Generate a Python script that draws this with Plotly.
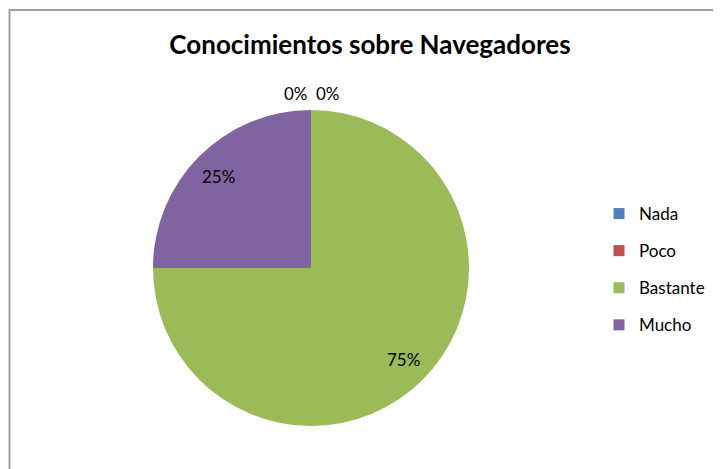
import math
import plotly.graph_objects as go

labels = ["Nada", "Poco", "Bastante", "Mucho"]
values = [0, 0, 75, 25]
colors = ["#4F81BD", "#C0504D", "#9BBB59", "#8064A2"]

W, H = 721, 469
OFF = 8  # the page body margin shifts the figure by 8px
CX, CY, R = 311, 268, 158  # pie centre and radius, screen pixels


def px_x(x):
    return (x - OFF) / W


def px_y(y):
    return 1 - (y - OFF) / H


fig = go.Figure()

fig.add_trace(go.Pie(
    labels=labels, values=values, sort=False, direction="clockwise", rotation=0,
    marker=dict(colors=colors, line=dict(width=0)),
    textinfo="none",
    showlegend=False,
    domain=dict(x=[px_x(CX - R), px_x(CX + R)], y=[px_y(CY + R), px_y(CY - R)]),
))

# data labels, placed like Excel does (inside at ~0.82r, zero slices above the top)
total = sum(values)
annotations = []
start = 0.0
zero_i = 0
for v in values:
    pct = v / total
    if v == 0:
        x = CX + (-15 if zero_i == 0 else 17)
        y = CY - R - 16
        zero_i += 1
    else:
        mid = (start + pct / 2) * 2 * math.pi
        x = CX + 0.83 * R * math.sin(mid)
        y = CY - 0.82 * R * math.cos(mid)
    start += pct
    annotations.append(dict(
        text=f"{pct:.0%}", x=px_x(x), y=px_y(y), xref="paper", yref="paper",
        showarrow=False, xanchor="center", yanchor="middle",
        font=dict(family="Lato", size=17, color="black"),
    ))

# legend entries
for lab, col in zip(labels, colors):
    fig.add_trace(go.Scatter(
        x=[None], y=[None], mode="markers", name=lab, legendgroup=lab,
        marker=dict(symbol="square", size=11, color=col),
    ))

fig.update_layout(
    width=W, height=H,
    margin=dict(l=0, r=0, t=0, b=0),
    paper_bgcolor="white", plot_bgcolor="white",
    xaxis=dict(visible=False), yaxis=dict(visible=False),
    title=dict(text="<b>Conocimientos sobre Navegadores</b>", x=px_x(370), xanchor="center",
               y=px_y(45), yanchor="middle",
               font=dict(family="Lato", size=26, color="black")),
    legend=dict(x=px_x(599), xanchor="left", y=px_y(196), yanchor="top",
                font=dict(family="Lato", size=17, color="black"),
                tracegroupgap=12, itemwidth=30),
    annotations=annotations,
    shapes=[dict(type="rect", xref="paper", yref="paper",
                 x0=px_x(9.5), y0=-0.05, x1=1.05, y1=px_y(10),
                 line=dict(color="#A0A0A0", width=2))],
)

fig.write_html("out.html")
